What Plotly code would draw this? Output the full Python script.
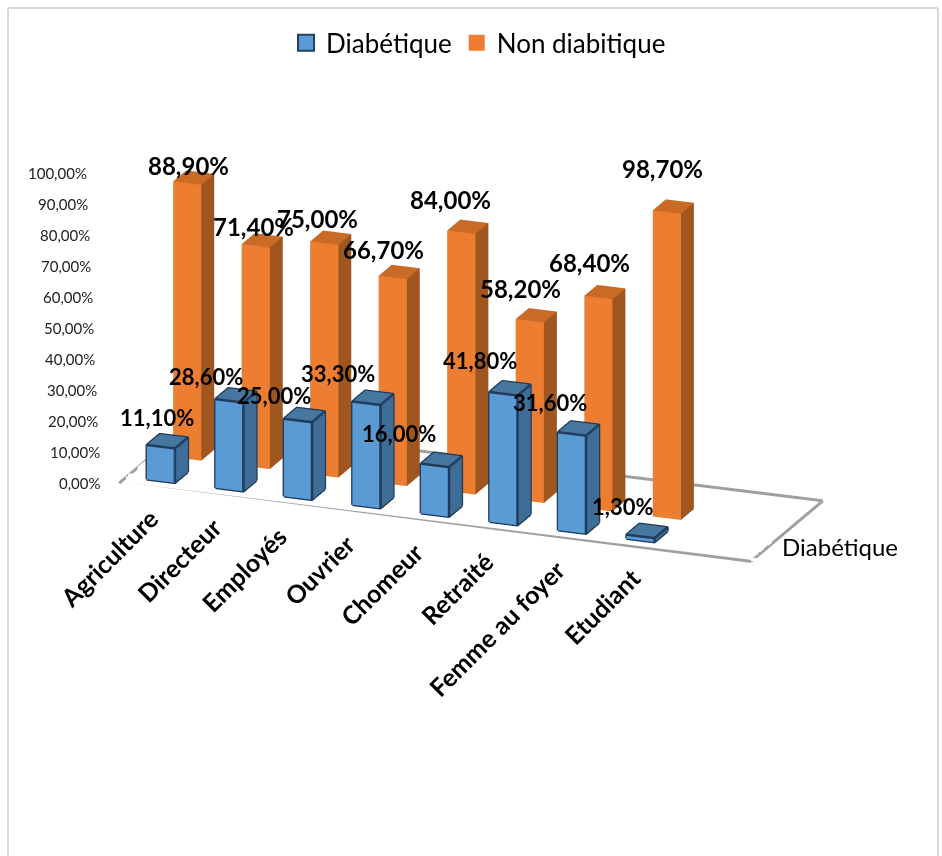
import plotly.graph_objects as go

FONT = "Lato"
categories = ["Agriculture", "Directeur", "Employés", "Ouvrier", "Chomeur", "Retraité", "Femme au foyer", "Etudiant"]
diabetique = [11.10, 28.60, 25.00, 33.30, 16.00, 41.80, 31.60, 1.30]
non_diabetique = [88.90, 71.40, 75.00, 66.70, 84.00, 58.20, 68.40, 98.70]
tick_values = [0, 10, 20, 30, 40, 50, 60, 70, 80, 90, 100]
tick_labels = ["0,00%", "10,00%", "20,00%", "30,00%", "40,00%", "50,00%", "60,00%", "70,00%", "80,00%", "90,00%", "100,00%"]

# Pixel nudges that keep the crowded labels in their usual places
blue_xshift = [-10, -30, -30, -35, -42, -30, -28, -24]
blue_yshift = [24, 19, 20, 24, 26, 28, 26, 24]
orange_xshift = [-5, -9, -13, -16, -17, -16, -15, -11]
orange_yshift = [12, 14, 19, 22, 27, 27, 30, 38]
category_xshift = [6, 1, -2, -3, -3, -1, 2, 9]

BAR_W = 0.41
BAR_D = 0.49
X0, X1 = -0.5, 8.72
Y0, Y1 = -0.53, 2.2


def fr(v):
    return f"{v:.2f}".replace(".", ",") + "%"


def box_mesh(values, row, front, side, top, name):
    xs, ys, zs, ii, jj, kk, colors = [], [], [], [], [], [], []
    for c, v in enumerate(values):
        b = len(xs)
        x0, x1 = c - BAR_W / 2, c + BAR_W / 2
        y0, y1 = row - BAR_D / 2, row + BAR_D / 2
        xs += [x0, x1, x1, x0, x0, x1, x1, x0]
        ys += [y0, y0, y1, y1, y0, y0, y1, y1]
        zs += [0, 0, 0, 0, v, v, v, v]
        faces = [((0, 1, 5), front), ((0, 5, 4), front),
                 ((1, 2, 6), side), ((1, 6, 5), side),
                 ((4, 5, 6), top), ((4, 6, 7), top),
                 ((0, 3, 7), side), ((0, 7, 4), side),
                 ((2, 3, 7), side), ((2, 7, 6), side)]
        for (p, q, r), col in faces:
            ii.append(b + p); jj.append(b + q); kk.append(b + r); colors.append(col)
    return go.Mesh3d(x=xs, y=ys, z=zs, i=ii, j=jj, k=kk, facecolor=colors, flatshading=True,
                     lighting=dict(ambient=1, diffuse=0, specular=0, fresnel=0), name=name,
                     hoverinfo="skip", showlegend=False)


def box_edges(values, row):
    ex, ey, ez = [], [], []
    for c, v in enumerate(values):
        x0, x1 = c - BAR_W / 2, c + BAR_W / 2
        y0, y1 = row - BAR_D / 2, row + BAR_D / 2
        paths = [[(x0, y0, 0), (x1, y0, 0), (x1, y1, 0)],
                 [(x0, y0, 0), (x0, y0, v), (x1, y0, v), (x1, y0, 0)],
                 [(x0, y0, v), (x0, y1, v), (x1, y1, v), (x1, y1, 0)],
                 [(x1, y0, v), (x1, y1, v)]]
        for path in paths:
            for p in path:
                ex.append(p[0]); ey.append(p[1]); ez.append(p[2])
            ex.append(None); ey.append(None); ez.append(None)
    return go.Scatter3d(x=ex, y=ey, z=ez, mode="lines", line=dict(color="#1f3a5a", width=5),
                        hoverinfo="skip", showlegend=False)


# Floor outline and the small ticks of the depth axis
floor_x = [X0, X1, X1, X0, X0]
floor_y = [Y0, Y0, Y1, Y1, Y0]
for frac in (0, 1 / 3, 2 / 3, 1):
    floor_x += [None, X1, X1 + 0.1]
    yt = Y0 + frac * (Y1 - Y0)
    floor_y += [None, yt, yt]
floor_z = [None if val is None else 0 for val in floor_x]

fig = go.Figure()
fig.add_trace(go.Scatter3d(x=floor_x, y=floor_y, z=floor_z, mode="lines",
                           line=dict(color="#a0a0a0", width=6), hoverinfo="skip", showlegend=False))
fig.add_trace(box_mesh(non_diabetique, 1, "#ed7d31", "#a0561f", "#c96a25", "Non diabitique"))
fig.add_trace(box_mesh(diabetique, 0, "#5b9bd5", "#3e6d98", "#46789f", "Diabétique"))
fig.add_trace(box_edges(diabetique, 0))

fig.add_trace(go.Scatter(x=[None], y=[None], mode="markers", name="Diabétique",
                         marker=dict(symbol="square", size=16, color="#5b9bd5",
                                     line=dict(color="#24405f", width=2))))
fig.add_trace(go.Scatter(x=[None], y=[None], mode="markers", name="Non diabitique",
                         marker=dict(symbol="square", size=16, color="#ed7d31")))

annotations = []
for c, v in enumerate(diabetique):
    annotations.append(dict(x=c, y=0, z=v, text=f"<b>{fr(v)}</b>", showarrow=False,
                            xshift=blue_xshift[c], yshift=blue_yshift[c],
                            font=dict(family=FONT, size=22, color="#000000")))
for c, v in enumerate(non_diabetique):
    annotations.append(dict(x=c, y=1, z=v, text=f"<b>{fr(v)}</b>", showarrow=False,
                            xshift=orange_xshift[c], yshift=orange_yshift[c],
                            font=dict(family=FONT, size=24, color="#000000")))
for c, name in enumerate(categories):
    annotations.append(dict(x=c + 0.1, y=Y0, z=0, text=f"<b>{name}</b>", showarrow=False, textangle=-45,
                            xanchor="right", yanchor="top", yshift=-12, xshift=category_xshift[c],
                            font=dict(family=FONT, size=25, color="#000000")))
annotations.append(dict(x=X1, y=0.0, z=0, text="Diabétique", showarrow=False, xanchor="left", xshift=15, yshift=3,
                        font=dict(family=FONT, size=24, color="#000000")))
# Value axis labels, stepping slightly to the left as they go up
for value, label in zip(tick_values, tick_labels):
    annotations.append(dict(x=X0, y=Y0, z=value, text=label, showarrow=False, xanchor="right",
                            xshift=-16 - 0.14 * value, font=dict(family=FONT, size=15, color="#222222")))

hidden = dict(visible=True, showgrid=False, showline=False, zeroline=False, showticklabels=False,
              showbackground=False, ticks="", title="", showspikes=False)

fig.update_layout(
    width=942, height=856, margin=dict(l=0, r=0, t=0, b=0),
    paper_bgcolor="white", plot_bgcolor="rgba(0,0,0,0)",
    font=dict(family=FONT, color="#000000"),
    xaxis=dict(visible=False), yaxis=dict(visible=False),
    legend=dict(orientation="h", x=0.508, xanchor="center", y=0.95, yanchor="middle",
                font=dict(family=FONT, size=26), bgcolor="rgba(0,0,0,0)"),
    scene=dict(
        domain=dict(x=[0, 1], y=[0, 1]),
        xaxis=dict(range=[X0, X1], **hidden),
        yaxis=dict(range=[Y0, Y1], **hidden),
        zaxis=dict(range=[0, 100], tickvals=tick_values, **hidden),
        aspectmode="manual", aspectratio=dict(x=1.581, y=0.47, z=0.766),
        camera=dict(eye=dict(x=1.338, y=-3.488, z=1.047), up=dict(x=0, y=0, z=1),
                    center=dict(x=0, y=0, z=-0.225), projection=dict(type="orthographic")),
        annotations=annotations,
    ),
    shapes=[
        dict(type="line", xref="paper", yref="paper", x0=8 / 942, x1=8 / 942, y0=0, y1=1 - 8 / 856,
             line=dict(color="#d9d9d9", width=2)),
        dict(type="line", xref="paper", yref="paper", x0=8 / 942, x1=938 / 942, y0=1 - 8 / 856, y1=1 - 8 / 856,
             line=dict(color="#d9d9d9", width=2)),
        dict(type="line", xref="paper", yref="paper", x0=938 / 942, x1=938 / 942, y0=0, y1=1 - 8 / 856,
             line=dict(color="#d9d9d9", width=2)),
    ],
)

fig.write_html("out.html")
